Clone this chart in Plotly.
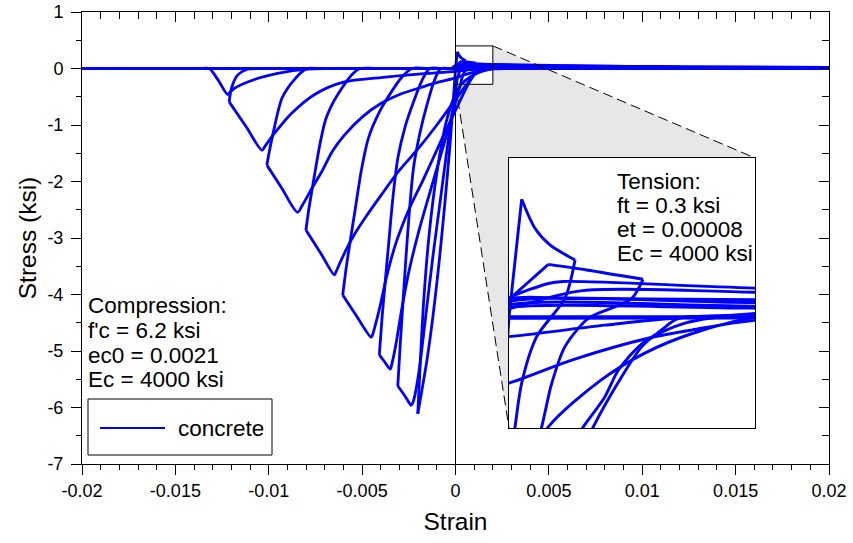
import plotly.graph_objects as go

# ---------------- data: strain (in/in) vs stress (ksi) ----------------
# compression loading / unloading / reloading branches
load0_strain = [0.0, -0.00032, -0.001, -0.0015, -0.00202]
load0_stress = [0.0, -1.45, -3.8, -5.1, -6.11]

unl0_strain = [-0.00202, -0.0019, -0.0017, -0.0014, -0.001, -0.0005, 0.0, 0.00032, 0.00075, 0.0011, 0.00149, 0.00203, 0.003]
unl0_stress = [-6.11, -5.3, -4.1, -2.9, -1.85, -0.95, -0.45, -0.277, -0.159, -0.092, -0.042, 0.0, 0.005]

rel1_strain = [0.000537, 0.000455, 0.000225, 0.000103, 0.000049, -0.0001, -0.0004, -0.0008, -0.0012, -0.0016, -0.00195, -0.0022, -0.00232, -0.00238, -0.0027, -0.00309]
rel1_stress = [0.143, 0.047, -0.05, -0.167, -0.277, -0.6, -1.3, -2.3, -3.3, -4.4, -5.35, -5.82, -5.94, -5.96, -5.80, -5.62]

unl1_strain = [-0.00309, -0.00295, -0.00268, -0.00247, -0.00224, -0.00189, -0.00155, -0.00114, -0.00079, -0.0003, 0.0]
unl1_stress = [-5.62, -4.83, -3.48, -2.53, -1.74, -1.12, -0.67, -0.22, 0.0, 0.0, 0.0]

rel2_strain = [0.00109, 0.001, 0.00086, 0.000645, 0.000455, 0.000347, 0.000266, -0.0005, -0.0012, -0.0019, -0.0025, -0.0029, -0.0032, -0.0034, -0.0035, -0.0038, -0.00408]
rel2_stress = [0.0945, 0.047, 0.025, -0.004, -0.075, -0.168, -0.277, -1.2, -2.0, -2.8, -3.6, -4.3, -4.9, -5.22, -5.32, -5.19, -5.07]

unl2_strain = [-0.00408, -0.00392, -0.00359, -0.00335, -0.00308, -0.00268, -0.00227, -0.00178, -0.00138, -0.0008, 0.0]
unl2_stress = [-5.07, -4.36, -3.14, -2.28, -1.57, -1.01, -0.61, -0.2, 0.0, 0.0, 0.0]

rel3_strain = [0.003, 0.002, 0.00138, 0.00124, 0.00108, 0.000916, 0.000685, 0.0002, -0.0008, -0.0017, -0.0025, -0.0032, -0.0037, -0.004, -0.0043, -0.00445, -0.00452, -0.0053, -0.00604]
rel3_stress = [0.0, -0.001, -0.004, -0.033, -0.075, -0.151, -0.277, -0.6, -1.3, -1.95, -2.5, -3.1, -3.7, -4.15, -4.55, -4.72, -4.755, -4.38, -4.01]

unl3_strain = [-0.00604, -0.00582, -0.00537, -0.00504, -0.00467, -0.00412, -0.00356, -0.00289, -0.00234, -0.0015, 0.0]
unl3_stress = [-4.01, -3.45, -2.49, -1.80, -1.24, -0.80, -0.48, -0.16, 0.0, 0.0, 0.0]

rel4_strain = [0.004, 0.00203, 0.00143, 0.0011, 0.00089, 0.00078, 0.000604, 0.0, -0.001, -0.002, -0.003, -0.004, -0.00479, -0.0054, -0.00586, -0.0062, -0.0064, -0.00649, -0.0072, -0.00801]
rel4_stress = [0.02, 0.009, -0.016, -0.063, -0.134, -0.201, -0.277, -0.55, -1.0, -1.42, -1.8, -2.25, -2.62, -2.93, -3.21, -3.45, -3.6, -3.65, -3.28, -2.86]

unl4_strain = [-0.00801, -0.00784, -0.00749, -0.00723, -0.00694, -0.0065, -0.00607, -0.00555, -0.00511, -0.0042, 0.0]
unl4_stress = [-2.86, -2.46, -1.77, -1.29, -0.89, -0.57, -0.34, -0.11, 0.0, 0.0, 0.0]

rel5_strain = [0.005, 0.00203, 0.00149, 0.00113, 0.00051, 0.0, -0.001, -0.002, -0.003, -0.004, -0.005, -0.00595, -0.0066, -0.00712, -0.00774, -0.0082, -0.00846, -0.0093, -0.0101]
rel5_stress = [0.01, -0.008, -0.033, -0.054, -0.109, -0.167, -0.25, -0.35, -0.46, -0.62, -0.86, -1.18, -1.47, -1.8, -2.15, -2.42, -2.545, -2.12, -1.71]

unl5_strain = [-0.0101, -0.00997, -0.00971, -0.00951, -0.0093, -0.00897, -0.00865, -0.00826, -0.00793, -0.0072, 0.0]
unl5_stress = [-1.71, -1.47, -1.06, -0.77, -0.53, -0.34, -0.205, -0.068, 0.0, 0.0, 0.0]

rel6_strain = [0.003, 0.00149, 0.00078, 0.0, -0.002, -0.004, -0.00595, -0.0075, -0.0088, -0.0097, -0.01017, -0.01037, -0.0112, -0.01212]
rel6_stress = [0.01, 0.0, -0.021, -0.05, -0.1, -0.16, -0.237, -0.45, -0.8, -1.15, -1.36, -1.444, -1.035, -0.59]

unl6_strain = [-0.01212, -0.01206, -0.01195, -0.01167, -0.01114, -0.0105, -0.0095, 0.0]
unl6_stress = [-0.59, -0.45, -0.30, -0.118, -0.012, 0.0, 0.0, 0.0]

rel7_strain = [-0.004, -0.00792, -0.00953, -0.0108, -0.01185, -0.0121, -0.01221, -0.0127, -0.01319, -0.0136, -0.02]
rel7_stress = [0.0, -0.012, -0.088, -0.2, -0.354, -0.43, -0.46, -0.21, 0.0, 0.0, 0.0]

# tension branches
tenA_up_strain = [0.0, 0.000103]
tenA_up_stress = [0.0, 0.296]
tenA_soft_strain = [0.000103, 0.000211, 0.000333, 0.000537]
tenA_soft_stress = [0.296, 0.223, 0.181, 0.143]
tenB_up_strain = [-0.00016, 0.00032]
tenB_up_stress = [0.0, 0.132]
tenB_soft_strain = [0.00032, 0.00063, 0.00109]
tenB_soft_stress = [0.132, 0.118, 0.0945]
tenC_strain = [-0.0002, 0.0, 0.00032, 0.00044, 0.00204, 0.006, 0.012, 0.02]
tenC_stress = [0.0, 0.047, 0.084, 0.089, 0.072, 0.05, 0.03, 0.02]
tenD_strain = [-0.0002, 0.0, 0.0006, 0.002, 0.006, 0.012]
tenD_stress = [0.0, 0.02, 0.066, 0.062, 0.045, 0.03]
band1_strain = [-0.0002, 0.0, 0.0005, 0.002, 0.006, 0.012, 0.02]
band1_stress = [0.0, 0.045, 0.046, 0.043, 0.035, 0.028, 0.02]
band2_strain = [-0.0002, 0.0, 0.002, 0.008, 0.02]
band2_stress = [0.0, 0.038, 0.036, 0.025, 0.015]
band3_strain = [-0.0002, 0.0, 0.002, 0.01, 0.02]
band3_stress = [0.0, 0.03, 0.027, 0.015, 0.008]
band4_strain = [-0.0002, 0.0, 0.002, 0.008]
band4_stress = [0.0, 0.023, 0.022, 0.01]
band0_strain = [-0.02, 0.02]
band0_stress = [0.0, 0.0]
bandlow_strain = [0.0, 0.002, 0.006]
bandlow_stress = [-0.004, -0.003, 0.0]

# ticks and texts
x_tick_vals = [-0.02, -0.015, -0.01, -0.005, 0, 0.005, 0.01, 0.015, 0.02]
x_tick_text = ["-0.02", "-0.015", "-0.01", "-0.005", "0", "0.005", "0.01", "0.015", "0.02"]
y_tick_vals = [1, 0, -1, -2, -3, -4, -5, -6, -7]
y_tick_text = ["1", "0", "-1", "-2", "-3", "-4", "-5", "-6", "-7"]
compression_lines = ["Compression:", "f'c = 6.2 ksi", "ec0 = 0.0021", "Ec = 4000 ksi"]
tension_lines = ["Tension:", "ft = 0.3 ksi", "et = 0.00008", "Ec = 4000 ksi"]
legend_label = "concrete"

# ---------------- layout geometry (pixels) ----------------
W, H = 853, 543
ML, MR, MT, MB = 82, 24, 12, 79
PW, PH = W - ML - MR, H - MT - MB
X_RANGE = [-0.02, 0.02]
Y_RANGE = [-7, 1]
ZOOM_X = [0.0, 0.002]
ZOOM_Y = [-0.28, 0.4]
INSET_L, INSET_T, INSET_R, INSET_B = 509, 158, 755, 428
FONT = "Liberation Sans, Arial, sans-serif"
BLUE = "rgb(0,0,255)"
TXT = 22.5


def pxx(px):
    return (px - ML) / PW


def pxy(py):
    return (H - MB - py) / PH


def px_to_x(px):
    return X_RANGE[0] + (px - ML) / PW * (X_RANGE[1] - X_RANGE[0])


def py_to_y(py):
    return Y_RANGE[1] - (py - MT) / PH * (Y_RANGE[1] - Y_RANGE[0])


branches = [
    (band0_strain, band0_stress),
    (load0_strain, load0_stress), (unl0_strain, unl0_stress),
    (tenA_up_strain, tenA_up_stress), (tenA_soft_strain, tenA_soft_stress),
    (rel1_strain, rel1_stress), (unl1_strain, unl1_stress),
    (tenB_up_strain, tenB_up_stress), (tenB_soft_strain, tenB_soft_stress),
    (rel2_strain, rel2_stress), (unl2_strain, unl2_stress),
    (tenC_strain, tenC_stress), (tenD_strain, tenD_stress),
    (band1_strain, band1_stress), (band2_strain, band2_stress),
    (band3_strain, band3_stress), (band4_strain, band4_stress),
    (bandlow_strain, bandlow_stress),
    (rel3_strain, rel3_stress), (unl3_strain, unl3_stress),
    (rel4_strain, rel4_stress), (unl4_strain, unl4_stress),
    (rel5_strain, rel5_stress), (unl5_strain, unl5_stress),
    (rel6_strain, rel6_stress), (unl6_strain, unl6_stress),
    (rel7_strain, rel7_stress),
]
xs, ys = [], []
for bx, by in branches:
    xs += list(bx) + [None]
    ys += list(by) + [None]

fig = go.Figure()

# shaded zoom funnel (under everything in the main panel)
ins_xl, ins_xr = px_to_x(INSET_L), px_to_x(INSET_R)
ins_yt, ins_yb = py_to_y(INSET_T), py_to_y(INSET_B)
poly_x = [ZOOM_X[1], ins_xr, ins_xr, ins_xl, ZOOM_X[0], ZOOM_X[1], ZOOM_X[1]]
poly_y = [ZOOM_Y[1], ins_yt, ins_yb, ins_yb, ZOOM_Y[0], ZOOM_Y[0], ZOOM_Y[1]]
fig.add_trace(go.Scatter(x=poly_x, y=poly_y, mode="lines", fill="toself",
                         fillcolor="rgb(231,231,231)", line=dict(width=0),
                         hoverinfo="skip", showlegend=False))

fig.add_trace(go.Scatter(x=xs, y=ys, mode="lines", name=legend_label,
                         line=dict(color=BLUE, width=2.8, shape="spline", smoothing=0.8),
                         connectgaps=False, showlegend=False, hoverinfo="skip"))

# inset: same data on zoomed axes
fig.add_trace(go.Scatter(x=xs, y=ys, mode="lines", xaxis="x2", yaxis="y2",
                         line=dict(color=BLUE, width=2.9, shape="spline", smoothing=0.8),
                         connectgaps=False, showlegend=False, hoverinfo="skip"))

# dummy trace for the mirrored (top/right) axes
fig.add_trace(go.Scatter(x=[None], y=[None], xaxis="x3", yaxis="y3",
                         showlegend=False, hoverinfo="skip"))

axis_common = dict(showgrid=False, linecolor="black", linewidth=1, tickcolor="black",
                   tickwidth=1, automargin=False,
                   tickfont=dict(size=18, family=FONT, color="black"))

fig.update_layout(
    width=W, height=H,
    margin=dict(l=ML, r=MR, t=MT, b=MB, autoexpand=False),
    plot_bgcolor="white", paper_bgcolor="white",
    font=dict(family=FONT, color="black"),
    showlegend=False,
    xaxis=dict(range=X_RANGE, domain=[0, 1], showline=True, ticks="outside", ticklen=10,
               tickmode="array", tickvals=x_tick_vals, ticktext=x_tick_text,
               minor=dict(ticks="outside", ticklen=5, dtick=0.001, tick0=0, tickcolor="black"),
               zeroline=True, zerolinecolor="black", zerolinewidth=1,
               title=dict(text="Strain", font=dict(size=24.5, family=FONT), standoff=13),
               **axis_common),
    yaxis=dict(range=Y_RANGE, domain=[0, 1], showline=True, ticks="outside", ticklen=10,
               tickmode="array", tickvals=y_tick_vals, ticktext=y_tick_text,
               minor=dict(ticks="outside", ticklen=5, dtick=0.5, tick0=0, tickcolor="black"),
               zeroline=False, ticklabelstandoff=4,
               title=dict(text="Stress (ksi)", font=dict(size=24.5, family=FONT), standoff=3),
               **axis_common),
    xaxis3=dict(range=X_RANGE, overlaying="x", side="top", anchor="y3", showline=True,
                ticks="inside", ticklen=10, tickmode="array", tickvals=x_tick_vals,
                showticklabels=False, zeroline=False,
                minor=dict(ticks="inside", ticklen=7, dtick=0.001, tick0=0, tickcolor="black"),
                **axis_common),
    yaxis3=dict(range=Y_RANGE, overlaying="y", side="right", anchor="x3", showline=True,
                ticks="inside", ticklen=10, tickmode="array", tickvals=y_tick_vals,
                showticklabels=False, zeroline=False,
                minor=dict(ticks="inside", ticklen=7, dtick=0.5, tick0=0, tickcolor="black"),
                **axis_common),
    xaxis2=dict(range=ZOOM_X, domain=[pxx(INSET_L), pxx(INSET_R)], anchor="y2",
                showline=True, mirror=True, linecolor="black", linewidth=1, automargin=False,
                showticklabels=False, ticks="", showgrid=False, zeroline=False),
    yaxis2=dict(range=ZOOM_Y, domain=[pxy(INSET_B), pxy(INSET_T)], anchor="x2",
                showline=True, mirror=True, linecolor="black", linewidth=1, automargin=False,
                showticklabels=False, ticks="", showgrid=False, zeroline=False),
)

shapes = [
    # zoom window on the main axes
    dict(type="rect", xref="x", yref="y", x0=ZOOM_X[0], x1=ZOOM_X[1], y0=ZOOM_Y[0], y1=ZOOM_Y[1],
         line=dict(color="black", width=1), layer="above"),
    dict(type="line", xref="x", yref="y", x0=ZOOM_X[1], y0=ZOOM_Y[1], x1=ins_xr, y1=ins_yt,
         line=dict(color="black", width=1, dash="10px,5px"), layer="above"),
    dict(type="line", xref="x", yref="y", x0=ZOOM_X[0], y0=ZOOM_Y[0], x1=ins_xl, y1=ins_yb,
         line=dict(color="black", width=1, dash="10px,5px"), layer="above"),
    # legend box
    dict(type="rect", xref="paper", yref="paper", x0=pxx(88), x1=pxx(272), y0=pxy(455), y1=pxy(399),
         line=dict(color="black", width=1), fillcolor="white", layer="above"),
    dict(type="line", xref="paper", yref="paper", x0=pxx(100), x1=pxx(165), y0=pxy(428), y1=pxy(428),
         line=dict(color=BLUE, width=2), layer="above"),
]
fig.update_layout(shapes=shapes)

annotations = []
for i, txt in enumerate(compression_lines):
    annotations.append(dict(xref="paper", yref="paper", x=pxx(86), y=pxy(305 + 25 * i), text=txt,
                            showarrow=False, xanchor="left", yanchor="middle",
                            font=dict(size=TXT, family=FONT, color="black")))
for i, txt in enumerate(tension_lines):
    annotations.append(dict(xref="paper", yref="paper", x=pxx(615), y=pxy(181 + 24 * i), text=txt,
                            showarrow=False, xanchor="left", yanchor="middle",
                            font=dict(size=TXT, family=FONT, color="black")))
annotations.append(dict(xref="paper", yref="paper", x=pxx(176), y=pxy(428), text=legend_label,
                        showarrow=False, xanchor="left", yanchor="middle",
                        font=dict(size=TXT, family=FONT, color="black")))
fig.update_layout(annotations=annotations)

fig.write_html("out.html")
